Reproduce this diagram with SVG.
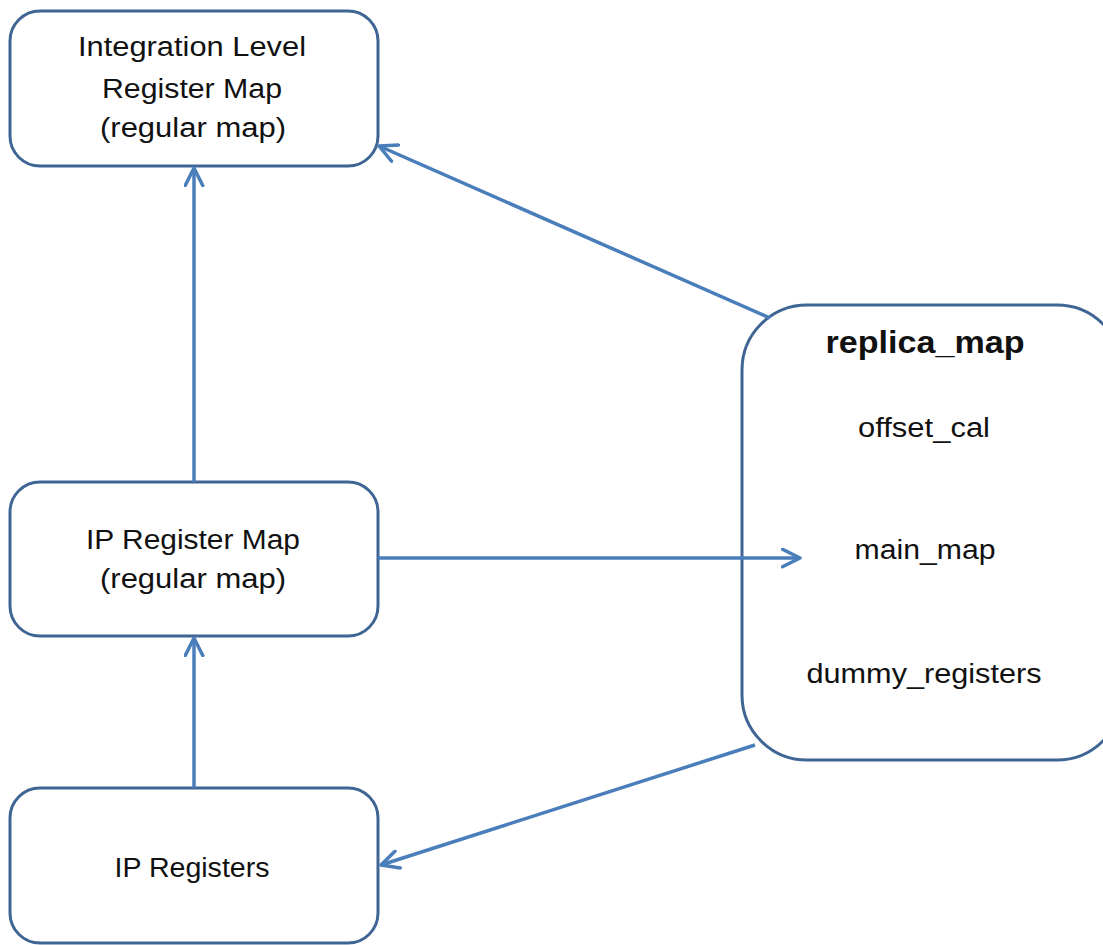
<svg xmlns="http://www.w3.org/2000/svg" width="1103" height="945" viewBox="0 0 1103 945">
  <style>
    .box { fill: #ffffff; stroke: #3f6594; stroke-width: 3; }
    .link { fill: none; stroke: #4a7ebb; stroke-width: 3.5; }
    .label { font-family: "Liberation Sans", Arial, sans-serif; font-size: 27px; fill: #111111; text-anchor: middle; }
    .title { font-weight: bold; font-size: 31px; }
  </style>
  <defs>
    <marker id="open-arrow" viewBox="0 0 12 12" refX="11" refY="6" markerWidth="6" markerHeight="6" orient="auto" markerUnits="strokeWidth">
      <path d="M1,1 L11,6 L1,11" fill="none" stroke="#4a7ebb" stroke-width="2" stroke-linecap="round" stroke-linejoin="round"/>
    </marker>
  </defs>

  <rect width="1103" height="945" fill="#ffffff"/>

  <!-- integration level map -->
  <g id="integration-map">
    <rect class="box" x="10" y="11" width="368" height="155" rx="30" ry="30"/>
    <text class="label" x="192" y="56" textLength="228" lengthAdjust="spacingAndGlyphs">Integration Level</text>
    <text class="label" x="192" y="98" textLength="180" lengthAdjust="spacingAndGlyphs">Register Map</text>
    <text class="label" x="193" y="137" textLength="186" lengthAdjust="spacingAndGlyphs">(regular map)</text>
  </g>

  <!-- IP register map -->
  <g id="ip-register-map">
    <rect class="box" x="10" y="482" width="368" height="154" rx="30" ry="30"/>
    <text class="label" x="193" y="549" textLength="214" lengthAdjust="spacingAndGlyphs">IP Register Map</text>
    <text class="label" x="193" y="588" textLength="186" lengthAdjust="spacingAndGlyphs">(regular map)</text>
  </g>

  <!-- IP registers -->
  <g id="ip-registers">
    <rect class="box" x="10" y="788" width="368" height="155" rx="30" ry="30"/>
    <text class="label" x="192" y="877" textLength="155" lengthAdjust="spacingAndGlyphs">IP Registers</text>
  </g>

  <!-- replica map -->
  <g id="replica-map">
    <rect class="box" x="742" y="305" width="380" height="455" rx="65" ry="65"/>
    <text class="label title" x="925" y="353" textLength="199" lengthAdjust="spacingAndGlyphs">replica_map</text>
    <text class="label" x="924" y="437" textLength="132" lengthAdjust="spacingAndGlyphs">offset_cal</text>
    <text class="label" x="925" y="559" textLength="141" lengthAdjust="spacingAndGlyphs">main_map</text>
    <text class="label" x="924" y="683" textLength="235" lengthAdjust="spacingAndGlyphs">dummy_registers</text>
  </g>

  <!-- connectors, drawn over the boxes so the main_map arrow shows inside replica_map -->
  <g id="connectors">
    <line class="link" x1="194" y1="482" x2="194" y2="168" marker-end="url(#open-arrow)"/>
    <line class="link" x1="194" y1="788" x2="194" y2="638" marker-end="url(#open-arrow)"/>
    <line class="link" x1="378" y1="558" x2="800" y2="558" marker-end="url(#open-arrow)"/>
    <line class="link" x1="770" y1="318" x2="379" y2="146" marker-end="url(#open-arrow)"/>
    <line class="link" x1="755" y1="745" x2="381" y2="865" marker-end="url(#open-arrow)"/>
  </g>
</svg>
